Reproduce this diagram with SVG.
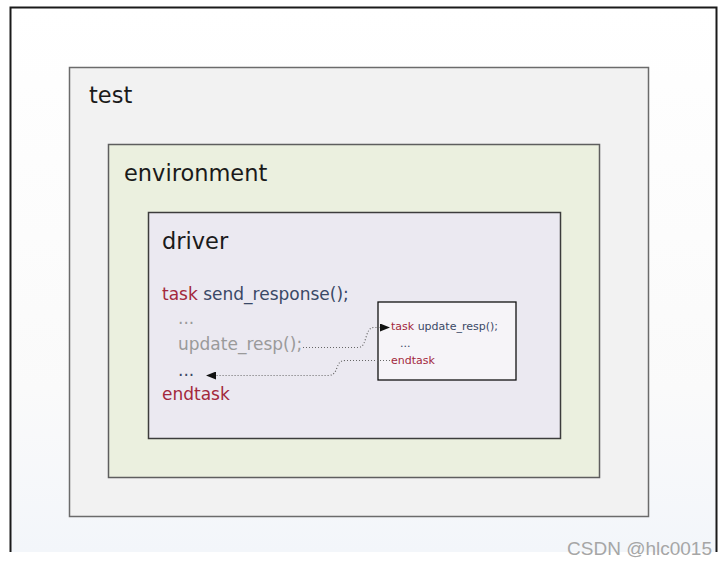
<svg xmlns="http://www.w3.org/2000/svg" width="727" height="564" viewBox="0 0 727 564">
  <defs>
    <linearGradient id="bg" x1="0" y1="0" x2="0" y2="1">
      <stop offset="0" stop-color="#ffffff"/>
      <stop offset="0.7" stop-color="#fafafa"/>
      <stop offset="1" stop-color="#f3f6fa"/>
    </linearGradient>
    <marker id="arr" markerWidth="10" markerHeight="8" refX="9" refY="4" orient="auto" markerUnits="userSpaceOnUse">
      <path d="M0,0 L10,4 L0,8 Z" fill="#111"/>
    </marker>
  </defs>
  <style>
    .lbl { font-family: "DejaVu Sans", sans-serif; fill: #1a1a1a; font-size: 22.5px; }
    .code { font-family: "DejaVu Sans", sans-serif; font-size: 17px; }
    .small { font-family: "DejaVu Sans", sans-serif; font-size: 11px; }
    .kw { fill: #a3283c; }
    .id { fill: #3a4866; }
    .gray { fill: #9a9a9a; }
    .conn { fill: none; stroke: #666; stroke-width: 1.2; stroke-dasharray: 1 2; }
  </style>
  <rect x="0" y="0" width="727" height="564" fill="#ffffff"/>
  <g id="frame">
    <rect x="10" y="7" width="707" height="545" fill="url(#bg)"/>
    <path d="M10.5,552 L10.5,7.5 L716.5,7.5 L716.5,552" fill="none" stroke="#1a1a1a" stroke-width="2"/>
  </g>
  <g id="test">
    <rect x="69.5" y="67.5" width="579" height="449" fill="#f2f2f2" stroke="#6b6b6b" stroke-width="1.5"/>
    <text class="lbl" x="89" y="103">test</text>
  </g>
  <g id="environment">
    <rect x="108.5" y="144.5" width="491" height="333" fill="#ebf0df" stroke="#5e5e5e" stroke-width="1.5"/>
    <text class="lbl" x="124" y="181">environment</text>
  </g>
  <g id="driver">
    <rect x="148.5" y="212.5" width="412" height="226" fill="#ebe9f1" stroke="#3c3c3c" stroke-width="1.5"/>
    <text class="lbl" x="162" y="249">driver</text>
    <text class="code" x="162" y="300"><tspan class="kw">task</tspan><tspan class="id"> send_response();</tspan></text>
    <text class="code gray" x="178" y="324" font-size="12">...</text>
    <text class="code gray" x="178" y="350">update_resp();</text>
    <text class="code id" x="178" y="376" font-size="12">...</text>
    <text class="code kw" x="162" y="400">endtask</text>
  </g>
  <g id="update_resp">
    <rect x="378" y="302" width="138" height="78" fill="#f6f4f8" stroke="#111" stroke-width="1.3"/>
    <text class="small" x="391" y="330"><tspan class="kw">task</tspan><tspan class="id"> update_resp();</tspan></text>
    <text class="small id" x="400" y="347">...</text>
    <text class="small kw" x="391" y="364">endtask</text>
  </g>
  <g id="connectors">
    <path class="conn" d="M303,347.5 L358,347.5 C368,347.5 364,327.5 374,327.5 L389,327.5" marker-end="url(#arr)"/>
    <path class="conn" d="M390,360.5 L345,360.5 C334,360.5 340,375.5 328,375.5 L207,375.5" marker-end="url(#arr)"/>
  </g>
  <text x="712" y="555" text-anchor="end" font-family="'Liberation Sans', Arial, sans-serif" font-size="19" fill="#a6a6a6">CSDN @hlc0015</text>
</svg>
